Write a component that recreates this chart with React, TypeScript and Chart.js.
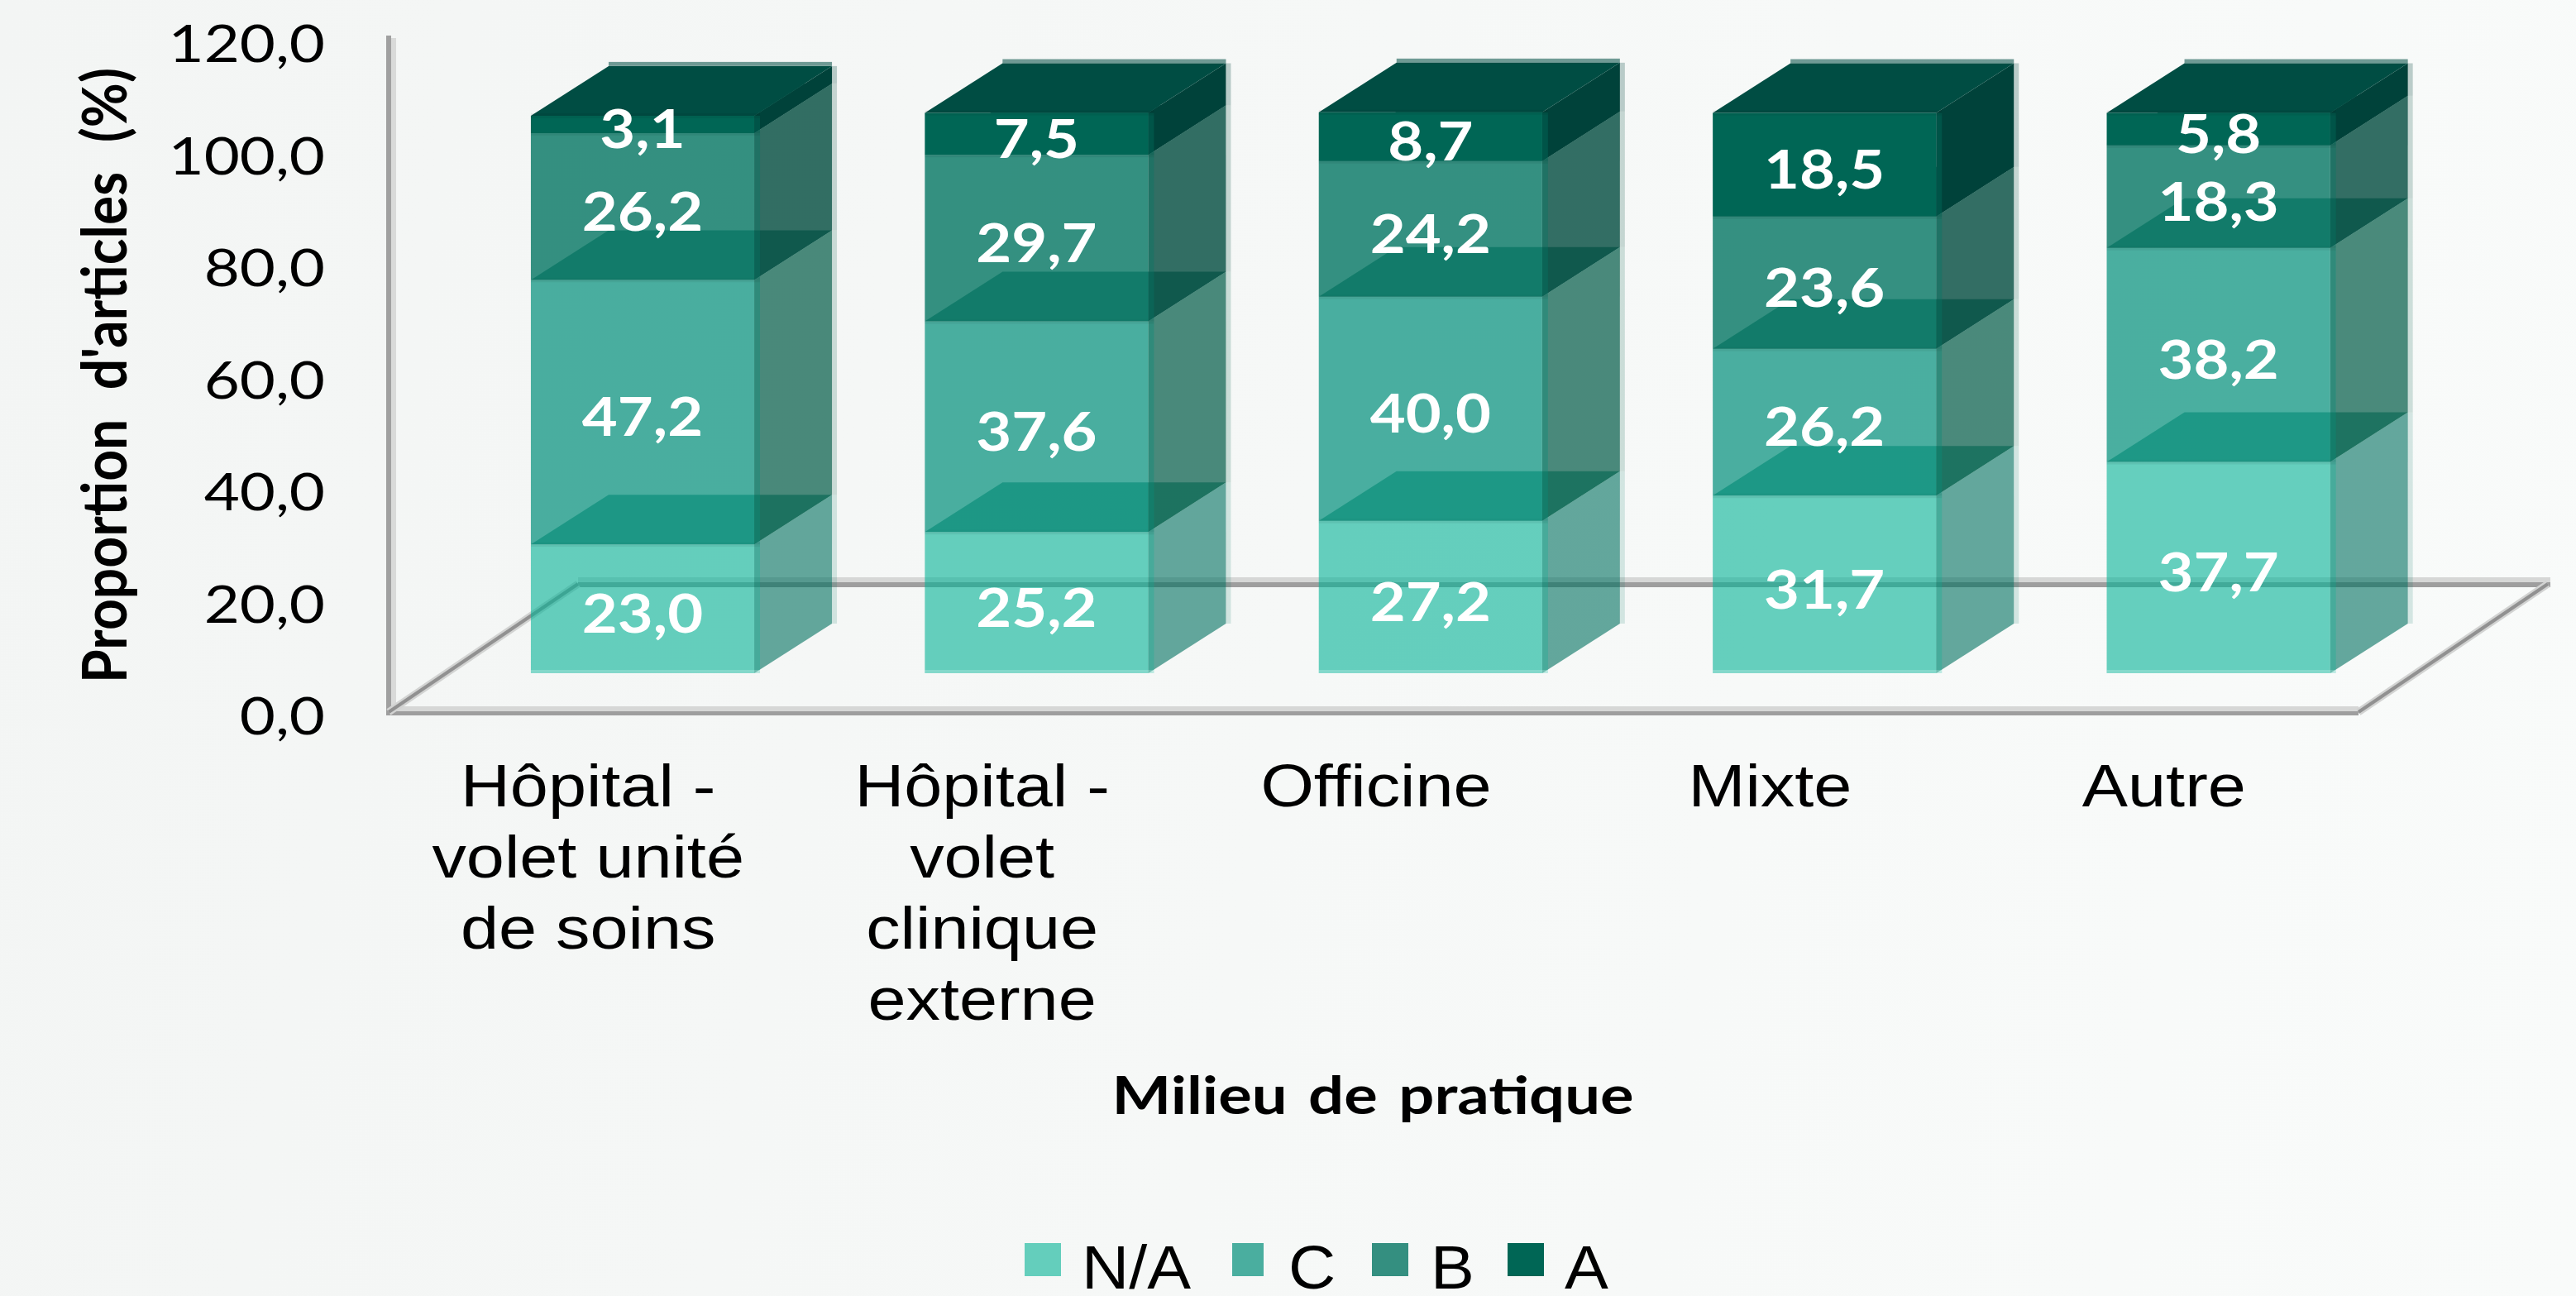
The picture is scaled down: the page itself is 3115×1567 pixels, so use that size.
import React, { useEffect, useRef } from "react";
import { Chart, registerables } from "chart.js";

Chart.register(...registerables);

const categories: string[][] = [
  ["Hôpital -", "volet unité", "de soins"],
  ["Hôpital -", "volet", "clinique", "externe"],
  ["Officine"],
  ["Mixte"],
  ["Autre"],
];
const seriesNames = ["N/A", "C", "B", "A"];
const naValues = [23.0, 25.2, 27.2, 31.7, 37.7];
const cValues = [47.2, 37.6, 40.0, 26.2, 38.2];
const bValues = [26.2, 29.7, 24.2, 23.6, 18.3];
const aValues = [3.1, 7.5, 8.7, 18.5, 5.8];

const yAxisTitle = "Proportion d'articles (%)";
const xAxisTitle = "Milieu de pratique";

const frontColors = ["rgba(3,178,150,.6)", "rgba(0,143,122,.7)", "rgba(4,117,99,.8)", "rgb(0,102,85)"];
const sideColors = ["rgba(0,112,95,.6)", "rgba(0,90,70,.7)", "rgba(1,75,62,.8)", "rgb(0,66,58)"];
const topColors = ["rgba(0,123,100,.6)", "rgba(0,104,87,.7)", "rgba(0,92,78,.8)", "rgb(0,77,67)"];
const swatchColors = ["#64cebc", "#4aae9f", "#348f80", "#006655"];

const fmt = (v: number) => v.toFixed(1).replace(".", ",");

const OFFSET = { x: 68.8, y: 47 };
const DEPTH = { x: 94, y: 60 };
const FLOOR = { x: 229, y: 155 };

function drawText(
  ctx: CanvasRenderingContext2D,
  text: string,
  x: number,
  y: number,
  font: string,
  color: string,
  align: CanvasTextAlign,
  sx: number,
  rot = 0,
  wordGap = 0
) {
  ctx.save();
  ctx.translate(x, y);
  if (rot) ctx.rotate(rot);
  ctx.scale(sx, 1);
  ctx.font = font;
  (ctx as any).wordSpacing = `${wordGap}px`;
  ctx.fillStyle = color;
  ctx.textAlign = align;
  ctx.textBaseline = "alphabetic";
  ctx.fillText(text, 0, 0);
  ctx.restore();
}

function fittedScale(ctx: CanvasRenderingContext2D, text: string, font: string, w: number, wordGap = 0) {
  ctx.save();
  ctx.font = font;
  (ctx as any).wordSpacing = `${wordGap}px`;
  const m = ctx.measureText(text).width;
  ctx.restore();
  return w / m;
}

function poly(ctx: CanvasRenderingContext2D, pts: number[][], color: string) {
  ctx.beginPath();
  pts.forEach((p, i) => (i ? ctx.lineTo(p[0], p[1]) : ctx.moveTo(p[0], p[1])));
  ctx.closePath();
  ctx.fillStyle = color;
  ctx.fill();
}

const box3d = {
  id: "box3d",
  beforeDatasetsDraw(chart: any) {
    const { ctx, chartArea: a } = chart;
    const L = a.left;
    const B = a.bottom;
    const R = a.right;
    ctx.save();
    // left wall edge
    ctx.fillStyle = "#a0a0a0";
    ctx.fillRect(L - 3, 43, 6, B + 4 - 43);
    ctx.fillStyle = "#d9dad9";
    ctx.fillRect(L + 3, 46, 6, B - 7 - 46);
    // floor edges
    ctx.fillStyle = "#d6d7d6";
    ctx.fillRect(L + 6, B - 7, R - L - 6, 6);
    ctx.fillRect(L + FLOOR.x, B - FLOOR.y - 8, R - L + 3, 6);
    ctx.fillStyle = "#9e9e9e";
    ctx.fillRect(L - 3, B - 1, R - L + 3, 5);
    ctx.fillRect(L + FLOOR.x, B - FLOOR.y - 2, R - L + 3, 6);
    ctx.lineCap = "butt";
    for (const [w, c] of [
      [9, "#d2d3d2"],
      [4, "#919191"],
    ] as [number, string][]) {
      ctx.lineWidth = w;
      ctx.strokeStyle = c;
      for (const x0 of [L, R]) {
        ctx.beginPath();
        ctx.moveTo(x0, B);
        ctx.lineTo(x0 + FLOOR.x, B - FLOOR.y);
        ctx.stroke();
      }
    }
    ctx.restore();
  },
  // The boxes must be painted from the bottom of the stack upwards, so the
  // per-dataset pass is skipped and each controller is drawn in afterDatasetsDraw.
  beforeDatasetDraw() {
    return false;
  },
  afterDatasetsDraw(chart: any) {
    const { ctx } = chart;
    chart.data.datasets.forEach((_: any, i: number) => {
      const meta = chart.getDatasetMeta(i);
      ctx.save();
      ctx.translate(OFFSET.x, -OFFSET.y);
      meta.data.forEach((el: any) => {
        const { x, y, base, width } = el.getProps(["x", "y", "base", "width"], true);
        const l = x - width / 2;
        const r = x + width / 2;
        const dx = DEPTH.x;
        const dy = DEPTH.y;
        poly(ctx, [[r, y], [r + dx, y - dy], [r + dx, base - dy], [r, base]], sideColors[i]);
        poly(ctx, [[l, y], [l + dx, y - dy], [r + dx, y - dy], [r, y]], topColors[i]);
        // pale rim on the far edge of the box
        ctx.globalAlpha = 0.25;
        ctx.fillStyle = sideColors[i];
        ctx.fillRect(r + dx, y - dy, 6, base - y);
        if (i === seriesNames.length - 1) {
          ctx.globalAlpha = 0.55;
          ctx.fillStyle = topColors[i];
          ctx.fillRect(l + dx, y - dy - 5, width, 5);
        }
        ctx.globalAlpha = 1;
      });
      meta.controller.draw();
      meta.data.forEach((el: any) => {
        const { x, y, base, width } = el.getProps(["x", "y", "base", "width"], true);
        const r = x + width / 2;
        const l = x - width / 2;
        // front-face rims
        ctx.globalAlpha = 0.5;
        ctx.fillStyle = frontColors[i];
        ctx.fillRect(r, y, 7, base - y);
        ctx.globalAlpha = 1;
        ctx.fillStyle = "rgba(0,0,0,.06)";
        ctx.fillRect(l, y - 3, width + 7, 6);
        if (i === 0) {
          ctx.fillStyle = "rgba(255,255,255,.2)";
          ctx.fillRect(l, base - 4, width + 7, 6);
        }
      });
      ctx.restore();
    });
  },
  afterDraw(chart: any) {
    const { ctx, scales } = chart;
    const y = scales.y;
    const x = scales.x;
    // value labels
    chart.data.datasets.forEach((ds: any, di: number) => {
      const meta = chart.getDatasetMeta(di);
      meta.data.forEach((el: any, idx: number) => {
        const p = el.getProps(["x", "y", "base"], true);
        drawText(
          ctx,
          fmt(ds.data[idx]),
          p.x + OFFSET.x,
          (p.y + p.base) / 2 - OFFSET.y + 29,
          "700 65px Lato",
          "#ffffff",
          "center",
          1.14
        );
      });
    });
    // y ticks
    y.ticks.forEach((t: any) => {
      drawText(ctx, t.label, 393, y.getPixelForValue(t.value) + 27, "400 62px Lato", "#000", "right", 1.2);
    });
    // x tick labels
    categories.forEach((lines, i) => {
      lines.forEach((ln, k) => {
        drawText(ctx, ln, x.getPixelForValue(i) + 3, 975 + k * 86, "400 72px 'Liberation Sans'", "#000", "center", 1.15);
      });
    });
    // axis titles
    const yFont = "700 74px Lato";
    drawText(ctx, yAxisTitle, 153, 826, yFont, "#000", "left", fittedScale(ctx, yAxisTitle, yFont, 744, 22), -Math.PI / 2, 22);
    const xFont = "700 64px Lato";
    drawText(ctx, xAxisTitle, 1660, 1347, xFont, "#000", "center", fittedScale(ctx, xAxisTitle, xFont, 631, 6), 0, 6);
    // legend
    const boxes = [
      [1239, 44],
      [1490, 38],
      [1659, 44],
      [1823, 44],
    ];
    const texts = [1308, 1558, 1730, 1892];
    chart.data.datasets.forEach((ds: any, i: number) => {
      ctx.fillStyle = swatchColors[i];
      ctx.fillRect(boxes[i][0], 1503, boxes[i][1], 40);
      drawText(ctx, ds.label, texts[i], 1558, "400 74px 'Liberation Sans'", "#000", "left", 1.07);
    });
  },
};

export default function App() {
  const ref = useRef<HTMLCanvasElement>(null);
  useEffect(() => {
    document.body.style.margin = "0";
    const seriesValues = [naValues, cValues, bValues, aValues];
    const chart = new Chart(ref.current as HTMLCanvasElement, {
      type: "bar",
      data: {
        labels: categories.map((c) => c.join(" ")),
        datasets: seriesNames.map((name, i) => ({
          label: name,
          data: seriesValues[i],
          backgroundColor: frontColors[i],
          borderWidth: 0,
        })),
      },
      options: {
        responsive: false,
        animation: false,
        barPercentage: 0.567,
        categoryPercentage: 1,
        layout: { padding: { top: 48, right: 263, left: 0, bottom: 0 } },
        plugins: { legend: { display: false }, tooltip: { enabled: false } },
        scales: {
          x: {
            stacked: true,
            grid: { display: false },
            border: { display: false },
            ticks: { display: false },
            afterFit: (s: any) => {
              s.height = 706;
            },
          },
          y: {
            stacked: true,
            min: 0,
            max: 120,
            grid: { display: false },
            border: { display: false },
            ticks: { display: false, stepSize: 20, callback: (v: any) => fmt(Number(v)) },
            afterFit: (s: any) => {
              s.width = 470;
            },
          },
        },
      } as any,
      plugins: [box3d],
    });
    return () => chart.destroy();
  }, []);
  return (
    <canvas
      ref={ref}
      width={3115}
      height={1567}
      style={{
        display: "block",
        width: 3115,
        height: 1567,
        background: "linear-gradient(100deg,#f3f5f4 0%,#f6f8f7 50%,#f9fbfa 100%)",
      }}
    />
  );
}
